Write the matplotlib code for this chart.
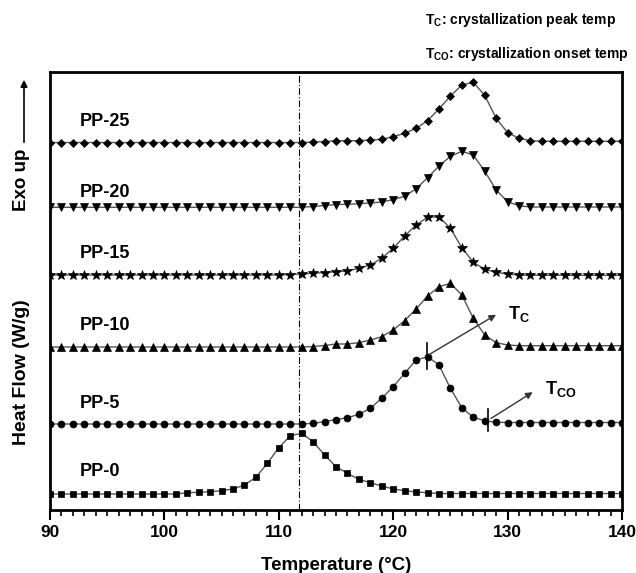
import numpy as np
import matplotlib
matplotlib.use("Agg")
import matplotlib.pyplot as plt
from matplotlib.ticker import MultipleLocator

plt.rcParams['font.family'] = ['Liberation Sans', 'DejaVu Sans']
plt.rcParams['mathtext.fontset'] = 'custom'
plt.rcParams['mathtext.rm'] = 'Liberation Sans'
plt.rcParams['mathtext.bf'] = 'Liberation Sans:bold'

# Temperature grid (°C) — one marker per degree
temperature = list(range(90, 141))

# Heat flow (arbitrary, offset-stacked W/g)
pp0 = [0.16]*12 + [0.173, 0.177, 0.183, 0.193, 0.21, 0.25, 0.327, 0.467, 0.623, 0.743,
                   0.767, 0.683, 0.55, 0.433, 0.367, 0.307, 0.273, 0.24, 0.21, 0.193,
                   0.18, 0.173] + [0.165]*17
pp5 = [0.86]*23 + [0.867, 0.883, 0.905, 0.923, 0.957, 1.017, 1.117, 1.233, 1.367, 1.50,
                   1.533, 1.45, 1.217, 1.023, 0.927, 0.893, 0.877] + [0.875]*11
pp10 = [1.63]*23 + [1.635, 1.645, 1.66, 1.66, 1.673, 1.70, 1.733, 1.80, 1.893, 2.01,
                    2.14, 2.233, 2.267, 2.15, 1.917, 1.75, 1.673, 1.65] + [1.643]*10
pp15 = [2.35]*21 + [2.355, 2.36, 2.367, 2.375, 2.383, 2.39, 2.417, 2.45, 2.517, 2.617,
                    2.74, 2.85, 2.927, 2.933, 2.817, 2.623, 2.477, 2.407, 2.377, 2.36,
                    2.35] + [2.347]*9
pp20 = [3.027]*23 + [3.035, 3.045, 3.055, 3.057, 3.063, 3.07, 3.08, 3.104, 3.137, 3.212,
                     3.322, 3.44, 3.537, 3.587, 3.55, 3.388, 3.20, 3.083, 3.042] + [3.03]*9
pp25 = [3.675]*23 + [3.68, 3.685, 3.693, 3.693, 3.693, 3.70, 3.707, 3.733, 3.767, 3.817,
                     3.893, 4.01, 4.14, 4.25, 4.277, 4.147, 3.917, 3.773, 3.717, 3.693] + [3.687]*8

series_names = ["PP-0", "PP-5", "PP-10", "PP-15", "PP-20", "PP-25"]
series_values = [pp0, pp5, pp10, pp15, pp20, pp25]
series_markers = ["s", "o", "^", "*", "v", "D"]
marker_sizes = [4.5, 5, 5.5, 7, 5.5, 4.5]
label_y = [0.383, 1.067, 1.843, 2.56, 3.177, 3.883]

tc_temp, tc_flow = 122.93, 1.54
tco_temp, tco_flow = 128.33, 0.90
ref_line_temp = 111.8

xticks = [90, 100, 110, 120, 130, 140]

fig = plt.figure(figsize=(6.36, 5.73), dpi=100)
ax = fig.add_axes([50/636, 1 - 510/573, 572/636, 438/573])

for name, vals, mk, ms, ly in zip(series_names, series_values, series_markers, marker_sizes, label_y):
    ax.plot(temperature, vals, color="#555555", lw=1.0, marker=mk, ms=ms,
            mfc="black", mec="black", mew=0.5, zorder=3)
    ax.text(92.6, ly, name, fontsize=13, fontweight="bold", ha="left", va="center")

ax.axvline(ref_line_temp, color="black", lw=0.8, linestyle=(0, (6, 2, 1, 2)), zorder=1)

# Tc / Tco markers and arrows
ax.plot([tc_temp, tc_temp], [tc_flow - 0.13, tc_flow + 0.13], color="black", lw=1.2, zorder=4)
ax.annotate("", xy=(129.2, 1.967), xytext=(tc_temp, tc_flow),
            arrowprops=dict(arrowstyle="-|>", color="#333333", lw=1.0, mutation_scale=10))
ax.text(130.0, 1.96, r"T$_\mathbf{C}$", fontsize=13, fontweight="bold", ha="left", va="center")

ax.plot([tco_temp, tco_temp], [tco_flow - 0.11, tco_flow + 0.11], color="black", lw=1.2, zorder=4)
ax.annotate("", xy=(132.4, 1.193), xytext=(tco_temp, tco_flow),
            arrowprops=dict(arrowstyle="-|>", color="#333333", lw=1.0, mutation_scale=10))
ax.text(133.3, 1.21, r"T$_\mathbf{CO}$", fontsize=13, fontweight="bold", ha="left", va="center")

ax.set_xlim(90, 140)
ax.set_ylim(0, 4.38)
ax.set_xticks(xticks)
ax.set_xticklabels([str(t) for t in xticks], fontsize=12.5, fontweight="bold")
ax.xaxis.set_minor_locator(MultipleLocator(1))
ax.tick_params(axis="x", which="major", direction="out", length=7, width=1.5, pad=4)
ax.tick_params(axis="x", which="minor", direction="out", length=4, width=1.2)
ax.set_yticks([])
for s in ax.spines.values():
    s.set_linewidth(2)

ax.set_xlabel("Temperature (°C)", fontsize=13.5, fontweight="bold", labelpad=12)

fig.text(22/636, 1 - 372/573, "Heat Flow (W/g)", rotation=90, fontsize=14,
         fontweight="bold", ha="center", va="center")
fig.text(22/636, 1 - 180/573, "Exo up", rotation=90, fontsize=13.5,
         fontweight="bold", ha="center", va="center")
fig.add_artist(matplotlib.patches.FancyArrowPatch(
    (24/636, 1 - 145/573), (24/636, 1 - 77/573), transform=fig.transFigure,
    arrowstyle="-|>", mutation_scale=10, color="black", lw=1.2))

fig.text(425/636, 1 - 20/573, r"T$_\mathbf{C}$: crystallization peak temp", fontsize=10,
         fontweight="bold", ha="left", va="center")
fig.text(425/636, 1 - 54/573, r"T$_\mathbf{CO}$: crystallization onset temp", fontsize=10,
         fontweight="bold", ha="left", va="center")

fig.savefig("out.png", dpi=100)
